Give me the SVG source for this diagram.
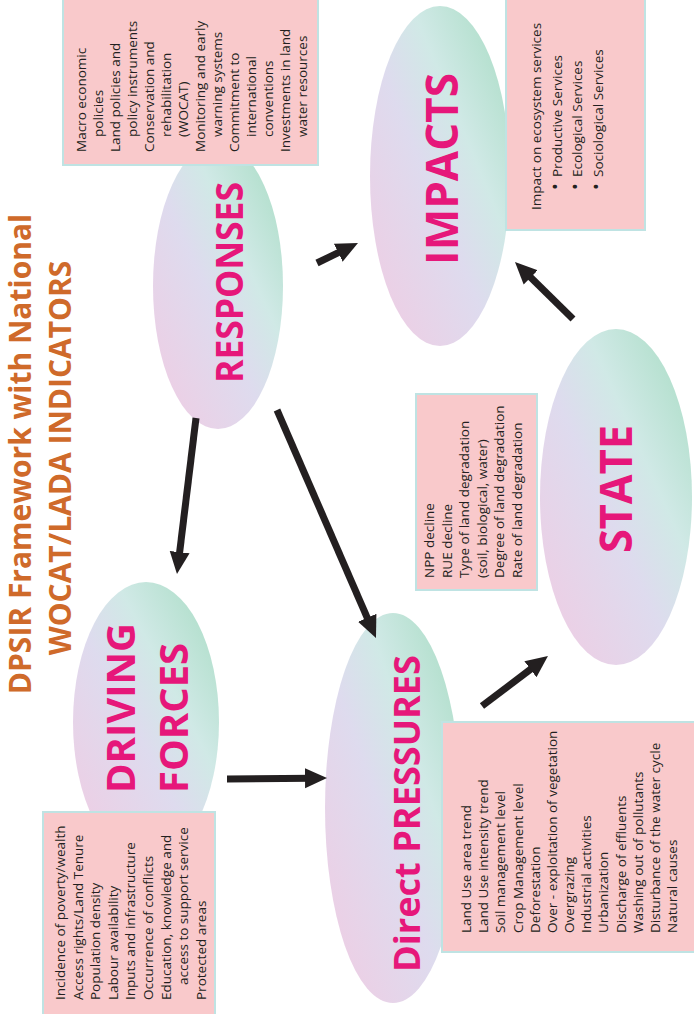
<svg xmlns="http://www.w3.org/2000/svg" width="694" height="1014" viewBox="0 0 694 1014">
<style>
.box{fill:#f9c9cb;stroke:#bfe3e3;stroke-width:2}
.blob{fill:url(#g)}
.t{font-family:"Open Sans","Noto Sans",sans-serif;font-size:13.5px;fill:#231f20}
.bul{font-size:18px}
.lbl{font-family:"Open Sans","Noto Sans",sans-serif;font-weight:bold;fill:#e6177a}
.title{font-family:"Open Sans","Noto Sans",sans-serif;font-weight:bold;font-size:30px;fill:#cf6a2a;text-anchor:middle}
.arr{stroke:#231f20;stroke-width:7;fill:none;marker-end:url(#ah)}
</style>
<defs>
<linearGradient id="g" x1="0" y1="1" x2="1" y2="0">
<stop offset="0" stop-color="#f1cbe2"/>
<stop offset="0.45" stop-color="#dedbee"/>
<stop offset="0.65" stop-color="#d0e9e6"/>
<stop offset="1" stop-color="#a5dbc1"/>
</linearGradient>
<marker id="ah" markerUnits="userSpaceOnUse" markerWidth="24" markerHeight="22" refX="7" refY="11" orient="auto">
<path d="M0,1 L22,11 L0,21 z" fill="#231f20"/>
</marker>
</defs>

<g id="title">
<text class="title" transform="translate(31,454) rotate(-90)">DPSIR Framework with National</text>
<text class="title" transform="translate(71,458) rotate(-90)">WOCAT/LADA INDICATORS</text>
</g>

<g id="responses">
<ellipse class="blob" cx="218" cy="286" rx="65" ry="143"/>
<text class="lbl" font-size="37" text-anchor="middle" textLength="201" lengthAdjust="spacingAndGlyphs" transform="translate(243,282.5) rotate(-90)">RESPONSES</text>
</g>

<g id="impacts">
<ellipse class="blob" cx="440" cy="176" rx="70" ry="170"/>
<text class="lbl" font-size="44" text-anchor="middle" transform="translate(458,169) rotate(-90)">IMPACTS</text>
</g>

<g id="state">
<ellipse class="blob" cx="616" cy="497" rx="76" ry="168"/>
<text class="lbl" font-size="44" text-anchor="middle" textLength="128" lengthAdjust="spacingAndGlyphs" transform="translate(632,489) rotate(-90)">STATE</text>
</g>

<g id="driving-forces">
<ellipse class="blob" cx="146" cy="722" rx="73" ry="140"/>
<text class="lbl" font-size="40" transform="translate(135,793) rotate(-90)">DRIVING</text>
<text class="lbl" font-size="40" transform="translate(188,793) rotate(-90)">FORCES</text>
</g>

<g id="direct-pressures">
<ellipse class="blob" cx="393" cy="808" rx="68" ry="195"/>
<text class="lbl" font-size="36" textLength="317" lengthAdjust="spacingAndGlyphs" transform="translate(420,972) rotate(-90)">Direct PRESSURES</text>
</g>

<g id="connectors">
<line class="arr" x1="317" y1="263" x2="344.5" y2="249.6"/>
<line class="arr" x1="573" y1="319" x2="525.7" y2="272.5"/>
<line class="arr" x1="196" y1="418" x2="178.8" y2="559.1"/>
<line class="arr" x1="277" y1="410" x2="370" y2="624.2"/>
<line class="arr" x1="227" y1="779" x2="312" y2="778.2"/>
<line class="arr" x1="482" y1="706" x2="536" y2="665.1"/>
</g>

<g id="responses-box">
<rect class="box" x="63" y="-2" width="255" height="167"/>
<text class="t" transform="translate(86,152) rotate(-90)">
<tspan x="0" y="0">Macro economic</tspan>
<tspan x="15" dy="17">policies</tspan>
<tspan x="0" dy="17">Land policies and</tspan>
<tspan x="15" dy="17">policy instruments</tspan>
<tspan x="0" dy="17">Conservation and</tspan>
<tspan x="15" dy="17">rehabilitation</tspan>
<tspan x="15" dy="17">(WOCAT)</tspan>
<tspan x="0" dy="17">Monitoring and early</tspan>
<tspan x="15" dy="17">warning systems</tspan>
<tspan x="0" dy="17">Commitment to</tspan>
<tspan x="15" dy="17">international</tspan>
<tspan x="15" dy="17">conventions</tspan>
<tspan x="0" dy="17">Investments in land</tspan>
<tspan x="15" dy="17">water resources</tspan>
</text>
</g>

<g id="impacts-box">
<rect class="box" x="506" y="-2" width="139" height="232"/>
<text class="t" transform="translate(541,210) rotate(-90)">
<tspan x="0" y="0">Impact on ecosystem services</tspan>
<tspan class="bul" x="20" dy="20.7">•</tspan><tspan x="33">Productive Services</tspan>
<tspan class="bul" x="20" dy="20.7">•</tspan><tspan x="33">Ecological Services</tspan>
<tspan class="bul" x="20" dy="20.7">•</tspan><tspan x="33">Sociological Services</tspan>
</text>
</g>

<g id="state-box">
<rect class="box" x="416" y="394" width="121" height="196"/>
<text class="t" transform="translate(434,578) rotate(-90)">
<tspan x="0" y="0">NPP decline</tspan>
<tspan x="0" dy="17.6">RUE decline</tspan>
<tspan x="0" dy="17.6">Type of land degradation</tspan>
<tspan x="0" dy="17.6">(soil, biological, water)</tspan>
<tspan x="0" dy="17.6">Degree of land degradation</tspan>
<tspan x="0" dy="17.6">Rate of land degradation</tspan>
</text>
</g>

<g id="driving-forces-box">
<rect class="box" x="43" y="812" width="172" height="210"/>
<text class="t" transform="translate(65,1000) rotate(-90)">
<tspan x="0" y="0">Incidence of poverty/wealth</tspan>
<tspan x="0" dy="17.6">Access rights/Land Tenure</tspan>
<tspan x="0" dy="17.6">Population density</tspan>
<tspan x="0" dy="17.6">Labour availability</tspan>
<tspan x="0" dy="17.6">Inputs and infrastructure</tspan>
<tspan x="0" dy="17.6">Occurrence of conflicts</tspan>
<tspan x="0" dy="17.6">Education, knowledge and</tspan>
<tspan x="15" dy="17.6">access to support service</tspan>
<tspan x="0" dy="17.6">Protected areas</tspan>
</text>
</g>

<g id="direct-pressures-box">
<rect class="box" x="442" y="722" width="260" height="230"/>
<text class="t" transform="translate(471,933) rotate(-90)">
<tspan x="0" y="0">Land Use area trend</tspan>
<tspan x="0" dy="17.17">Land Use intensity trend</tspan>
<tspan x="0" dy="17.17">Soil management level</tspan>
<tspan x="0" dy="17.17">Crop Management level</tspan>
<tspan x="0" dy="17.17">Deforestation</tspan>
<tspan x="0" dy="17.17">Over - exploitation of vegetation</tspan>
<tspan x="0" dy="17.17">Overgrazing</tspan>
<tspan x="0" dy="17.17">Industrial activities</tspan>
<tspan x="0" dy="17.17">Urbanization</tspan>
<tspan x="0" dy="17.17">Discharge of effluents</tspan>
<tspan x="0" dy="17.17">Washing out of pollutants</tspan>
<tspan x="0" dy="17.17">Disturbance of the water cycle</tspan>
<tspan x="0" dy="17.17">Natural causes</tspan>
</text>
</g>
</svg>
